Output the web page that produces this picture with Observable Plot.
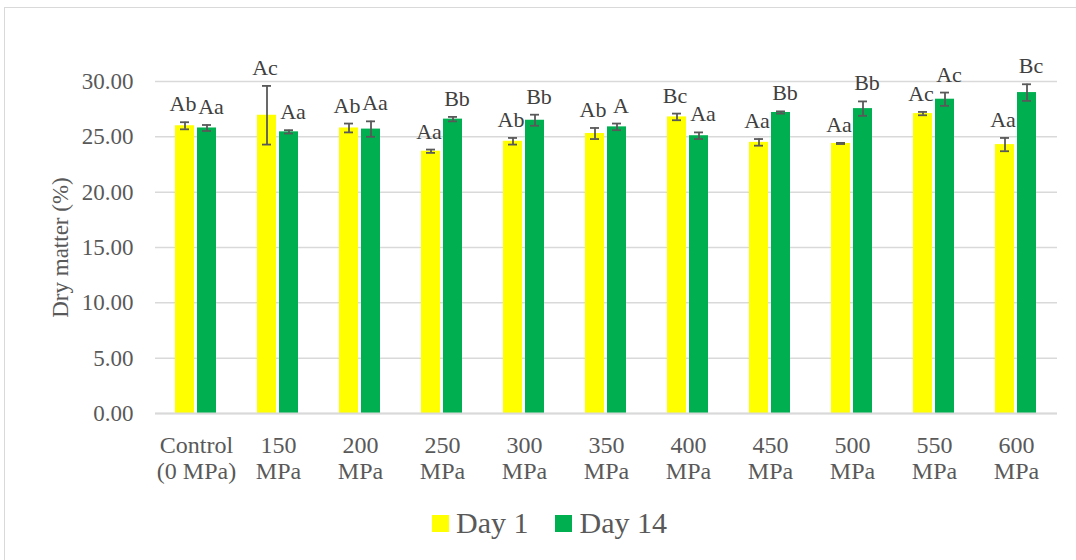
<!DOCTYPE html>
<html><head><meta charset="utf-8">
<script src="https://cdn.jsdelivr.net/npm/d3@7"></script>
<script src="https://cdn.jsdelivr.net/npm/@observablehq/plot@0.6"></script>
<style>
body{margin:0;background:#fff;}
#wrap{position:relative;width:1076px;height:560px;overflow:hidden;font-family:"Liberation Serif","Times New Roman","DejaVu Serif",serif;color:#595959;background:#fff;}
#frame{position:absolute;left:4px;top:7px;width:1200px;height:700px;border:1.5px solid #d9d9d9;pointer-events:none;}
#chart{position:absolute;left:0;top:0;}
#legend{position:absolute;left:432px;top:505px;display:flex;align-items:center;font-size:30px;line-height:36px;}
.sw{display:inline-block;width:17px;height:17px;margin-right:7px;}
.item{display:flex;align-items:center;margin-right:27px;}
svg text{font-family:"Liberation Serif","Times New Roman","DejaVu Serif",serif;}
</style>
</head><body>
<div id="wrap"><div id="chart"></div><div id="frame"></div><div id="legend"></div></div>
<script>
const categories = ["Control\n(0 MPa)","150\nMPa","200\nMPa","250\nMPa","300\nMPa","350\nMPa","400\nMPa","450\nMPa","500\nMPa","550\nMPa","600\nMPa"];
const series = ["Day 1","Day 14"];
const day1 = [26.0, 26.95, 25.8, 23.7, 24.6, 25.3, 26.8, 24.5, 24.4, 27.1, 24.3];
const day1Err = [0.32, 2.65, 0.4, 0.15, 0.3, 0.5, 0.3, 0.3, 0.05, 0.15, 0.6];
const day14 = [25.8, 25.45, 25.7, 26.6, 26.5, 25.9, 25.1, 27.2, 27.55, 28.4, 29.0];
const day14Err = [0.27, 0.15, 0.7, 0.2, 0.5, 0.3, 0.3, 0.1, 0.65, 0.6, 0.75];
const day1Labels = ["Ab","Ac","Ab","Aa","Ab","Ab","Bc","Aa","Aa","Ac","Aa"];
const day14Labels = ["Aa","Aa","Aa","Bb","Bb","A","Aa","Bb","Bb","Ac","Bc"];
const yTicks = [0,5,10,15,20,25,30];
const colors = ["#FFFF00","#00B050"];

const rows = [];
categories.forEach((c,i)=>{
  rows.push({cat:c, series:series[0], value:day1[i], err:day1Err[i], label:day1Labels[i]});
  rows.push({cat:c, series:series[1], value:day14[i], err:day14Err[i], label:day14Labels[i]});
});
const rows1 = rows.filter(d=>d.series===series[0]);
const rows14 = rows.filter(d=>d.series===series[1]);
const font = "'Liberation Serif','Times New Roman','DejaVu Serif',serif";

const chart = Plot.plot({
  width:1076, height:495,
  marginTop:81, marginBottom:82, marginLeft:152, marginRight:16,
  style:{fontFamily:font, color:"#595959", background:"transparent", overflow:"visible"},
  fx:{domain:categories, paddingInner:0, paddingOuter:0},
  x:{domain:series, paddingInner:3/23, paddingOuter:0.86, axis:null},
  y:{domain:[0,30]},
  color:{domain:series, range:colors},
  marks:[
    Plot.gridY(yTicks,{stroke:"#d9d9d9", strokeOpacity:1, strokeWidth:1.5}),
    Plot.barY(rows,{fx:"cat", x:"series", y:"value", fill:"series"}),
    Plot.ruleY([0],{stroke:"#d9d9d9", strokeWidth:2}),
    Plot.ruleX(rows,{fx:"cat", x:"series", y1:d=>d.value-d.err, y2:d=>d.value+d.err, stroke:"#595959", strokeWidth:1.8}),
    Plot.tickY(rows,{fx:"cat", x:"series", y:d=>d.value+d.err, insetLeft:5, insetRight:5, stroke:"#595959", strokeWidth:1.8}),
    Plot.tickY(rows,{fx:"cat", x:"series", y:d=>d.value-d.err, insetLeft:5, insetRight:5, stroke:"#595959", strokeWidth:1.8}),
    Plot.text(rows1,{fx:"cat", x:"series", y:d=>d.value+d.err, text:"label", lineAnchor:"bottom", dy:-11, dx:-2, fontSize:22, fill:"#404040", fontFamily:font}),
    Plot.text(rows14,{fx:"cat", x:"series", y:d=>d.value+d.err, text:"label", lineAnchor:"bottom", dy:-11, dx:4, fontSize:22, fill:"#404040", fontFamily:font}),
    Plot.axisY(yTicks,{tickFormat:d=>d.toFixed(2), tickSize:0, tickPadding:22, fontSize:23, fontFamily:font, label:"Dry matter (%)", labelAnchor:"center", labelOffset:104, labelArrow:false}),
    Plot.axisFx({anchor:"bottom", tickSize:0, tickPadding:20, fontSize:24, fontFamily:font, lineHeight:1.12, label:null})
  ]
});
document.getElementById("chart").appendChild(chart);

const legend = document.getElementById("legend");
series.forEach((s,i)=>{
  const it = document.createElement("div"); it.className="item";
  const sw = document.createElement("span"); sw.className="sw"; sw.style.background=colors[i];
  const t = document.createElement("span"); t.textContent=s;
  it.appendChild(sw); it.appendChild(t); legend.appendChild(it);
});
</script>
</body></html>
